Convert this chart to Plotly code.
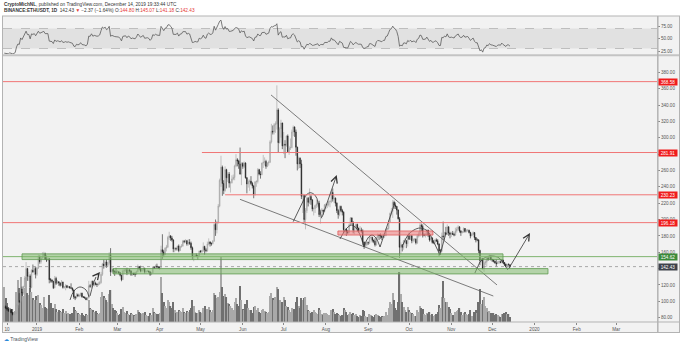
import numpy as np
import pandas as pd
import plotly.graph_objects as go

# ---------------- data ----------------
dates = pd.date_range("2018-12-08", "2019-12-14", freq="D")
first_open = 93.0

close_dec18 = [93.5, 92.0, 90.5, 88.3, 90.0, 86.2, 84.0, 84.5, 85.8, 95.3, 101.0, 99.6, 115.0, 110.2, 118.0, 128.5, 140.0, 130.5, 131.0, 117.0, 138.0, 136.0, 140.0, 133.0]
high_dec18 = [95.5, 95.0, 94.0, 91.5, 92.0, 90.5, 87.0, 86.0, 87.5, 97.0, 102.0, 110.0, 117.0, 118.0, 119.0, 131.0, 148.0, 141.0, 136.0, 133.0, 139.0, 145.0, 143.0, 142.0]
low_dec18 = [91.0, 90.5, 88.5, 87.0, 87.5, 85.5, 82.8, 83.0, 83.5, 85.0, 92.0, 98.0, 98.0, 107.0, 108.0, 117.0, 127.0, 125.0, 125.0, 116.0, 116.0, 135.0, 132.0, 128.0]

close_jan = [140.8, 155.0, 148.5, 153.0, 155.5, 158.0, 151.5, 150.5, 152.0, 126.5, 126.0, 124.5, 116.5, 128.0, 122.0, 124.0, 122.5, 119.5, 123.5, 117.0, 117.5, 119.0, 117.0, 118.0, 116.5, 116.0, 114.0, 105.5, 104.0, 108.0, 106.5]
high_jan = [142, 157, 156, 154, 160, 160.5, 159.5, 156, 154, 153, 128.5, 127, 125, 131, 130, 126, 124.5, 123, 126, 124, 118.5, 121, 120, 119, 118.5, 122, 117, 114, 106.5, 110, 109.5]
low_jan = [131, 139.5, 146, 146, 152, 152.5, 150.5, 148, 149.5, 122, 123, 122.5, 115, 116, 120, 121.5, 119, 118, 119, 115.5, 115.5, 113.5, 116, 116, 115.5, 115.5, 112, 103, 101.5, 103.5, 105.5]

close_feb = [107.0, 110.0, 105.5, 105.0, 104.0, 102.0, 104.5, 119.0, 118.5, 124.5, 120.0, 122.0, 121.0, 120.5, 121.0, 123.0, 133.0, 145.5, 143.5, 148.0, 144.0, 147.5, 157.0, 136.0, 139.0, 136.5, 136.0, 135.5]
high_feb = [109, 110.5, 110.5, 106, 106, 105, 105, 125, 121, 125, 125.5, 123.5, 124, 122, 124, 125, 136, 147, 151, 150, 151, 148.5, 160, 165, 142, 140, 138, 141]
low_feb = [105, 106, 104.5, 104, 103.5, 101.5, 101, 103.5, 116.5, 116.5, 119, 118, 119.5, 117.5, 119, 120.5, 121.5, 131, 140, 141.5, 141, 142, 145, 131, 135, 134, 131, 134]

close_mar = [136.0, 135.0, 132.0, 126.5, 137.0, 138.0, 138.5, 134.5, 138.5, 137.0, 133.0, 134.5, 133.0, 133.0, 136.5, 142.5, 140.0, 137.0, 139.0, 140.5, 136.0, 137.0, 137.0, 136.0, 133.0, 135.0, 142.0, 141.0, 143.0, 142.0, 141.5]
high_mar = [138, 137, 135.5, 132.5, 139, 140, 140, 141, 139, 139, 138, 135, 135, 135.5, 137.5, 145, 143, 143.5, 140, 142, 141, 137.5, 138.5, 137.5, 136.5, 135.5, 142.5, 143, 145, 146, 143]
low_mar = [135, 133, 130.5, 124.5, 126, 134, 136, 132, 134, 135, 131, 131, 132, 130, 132.5, 135.5, 138.5, 135.5, 136, 137.5, 134, 134.5, 136, 135, 131, 132, 134.5, 139.5, 140, 140.5, 139.5]

close_apr = [141.5, 163.0, 160.5, 157.0, 165.0, 166.5, 178.0, 180.0, 177.5, 175.0, 164.0, 164.5, 164.0, 167.5, 162.0, 167.0, 167.5, 173.5, 173.0, 174.0, 170.0, 172.0, 171.0, 165.5, 154.5, 155.0, 156.5, 155.5, 155.5, 161.5]
high_apr = [143, 168, 182, 163, 166, 169, 180, 185, 181, 180, 176, 166, 166, 168, 169.5, 168, 170, 175, 175, 176, 175, 176, 176, 173, 167, 158, 159, 158.5, 156.5, 162]
low_apr = [139, 141, 152, 154, 156.5, 161, 165, 175, 174, 173, 160, 160, 162, 162, 160, 161.5, 165.5, 167, 171, 171.5, 168, 168, 169, 163, 151, 149, 154, 154, 151, 154.5]

close_may = [160.5, 162.0, 167.0, 163.0, 162.0, 170.0, 172.5, 170.5, 170.5, 173.5, 194.0, 187.5, 197.0, 216.5, 248.0, 264.0, 244.0, 235.5, 261.0, 251.0, 255.5, 244.5, 245.0, 249.5, 251.5, 265.5, 273.0, 271.5, 268.0, 255.5, 268.5]
high_may = [162.5, 163, 172, 168, 165, 173, 177, 173.5, 172, 175, 196, 200, 198, 219, 250, 278, 266, 248, 265, 262, 258, 258, 247, 254, 255, 267, 280, 275, 273, 288, 270]
low_may = [159.5, 158.5, 160.5, 157, 160, 160.5, 168.5, 167, 168, 169.5, 173, 180, 183, 195, 215, 240, 229, 231, 234, 238, 246, 239, 233, 244, 248, 248, 264, 265, 262, 255, 242]

close_jun = [265.0, 269.0, 251.0, 243.5, 246.5, 247.0, 244.0, 241.0, 231.0, 246.0, 246.5, 261.0, 255.5, 255.0, 269.0, 270.0, 271.0, 265.0, 269.0, 270.0, 295.0, 308.0, 307.0, 316.0, 317.0, 334.0, 294.0, 311.0, 318.0, 290.0]
high_jun = [270, 271, 270, 252, 249, 249, 253, 246, 242, 247, 248, 263, 262, 259, 269.5, 279, 276, 273, 270, 272, 297, 317, 315, 318, 320, 364, 336, 313, 322, 318.5]
low_jun = [262, 263, 250, 232, 239, 235, 242, 238, 226, 229, 240, 244, 254, 250, 254, 263, 266, 262, 264, 266, 269, 293, 304, 304, 306, 310, 282, 293, 300, 286]

close_jul = [292.0, 291.0, 302.0, 283.0, 287.5, 288.0, 307.0, 313.0, 307.0, 288.5, 268.0, 275.0, 268.0, 228.5, 229.5, 200.0, 211.0, 226.0, 221.0, 228.0, 224.0, 213.0, 213.5, 217.0, 219.0, 220.0, 206.0, 211.0, 211.5, 210.0, 218.0]
high_jul = [307, 297, 303, 304, 290, 299, 310, 315, 314, 310, 289, 277, 276, 273, 232, 230, 214, 228, 227.5, 238, 230, 225, 215, 218, 224, 223, 223, 212, 214, 212, 219]
low_jul = [280, 275, 289, 282, 279, 285, 287, 302, 301, 278, 260, 262, 263, 225, 208, 196, 188, 208, 216, 219, 218, 210, 205, 208, 214, 215, 203, 195, 208, 206, 209]

close_aug = [218.0, 218.0, 222.0, 222.0, 233.0, 225.0, 226.0, 220.0, 211.0, 206.0, 216.0, 211.0, 209.0, 187.5, 188.0, 185.0, 184.0, 193.5, 202.0, 197.0, 187.0, 191.5, 194.0, 189.5, 186.5, 187.0, 186.0, 172.5, 168.5, 169.0, 172.0]
high_aug = [220, 221, 223, 224, 235, 238, 229, 227, 221, 213, 217, 217, 213, 210, 190, 189, 187, 195, 203, 202.5, 197.5, 192, 195, 195, 190, 192, 190, 188, 173, 171, 173.5]
low_aug = [213, 214, 216, 215, 220, 222, 220, 216, 208, 201, 204, 209, 205, 183, 181, 180, 182, 183, 192, 195, 183, 182, 188, 185, 184, 185.5, 184, 169, 164, 166, 167]

close_sep = [171.5, 178.0, 178.0, 174.5, 173.5, 169.0, 178.0, 181.0, 180.5, 180.0, 178.0, 180.5, 180.5, 188.0, 189.0, 197.0, 207.5, 210.0, 221.0, 217.5, 216.0, 211.5, 201.0, 166.0, 169.0, 166.0, 174.0, 174.0, 170.5, 180.0]
high_sep = [173, 180, 181, 179, 175.5, 177, 179, 183, 182, 183, 181, 183, 181.5, 189, 190, 199.5, 208.5, 214, 224, 223, 220, 216.5, 212.5, 203, 172, 170, 175, 177, 175, 181]
low_sep = [169, 170, 176, 172, 171, 167, 168, 175, 175, 176.5, 175, 177, 177.5, 179.5, 187, 187.5, 196, 205, 202, 213, 213, 206, 200, 153, 158, 161, 163, 171, 165, 167]

close_oct = [176.0, 180.0, 174.0, 176.0, 176.0, 171.5, 180.0, 182.5, 193.0, 191.5, 181.0, 181.0, 181.5, 187.0, 181.0, 175.0, 177.5, 172.0, 172.0, 175.0, 174.0, 170.0, 161.5, 161.5, 180.0, 179.0, 184.0, 182.0, 191.0, 183.5, 182.0]
high_oct = [184, 181, 181, 177, 177, 177, 182, 185, 196, 195, 194, 183, 184, 188, 187.5, 182, 178.5, 178, 174.5, 176, 177, 176, 171, 164, 184, 197.5, 185, 191, 194, 192, 185]
low_oct = [175, 175, 171, 172, 173, 169.5, 170, 178, 179, 186, 178, 179.5, 178, 180, 178.5, 173, 173.5, 170.5, 170, 169, 172.5, 168.5, 155.5, 159.5, 160, 175, 175, 181, 181, 180, 177]

close_nov = [183.0, 182.0, 181.0, 186.0, 188.5, 191.0, 186.0, 184.0, 185.0, 189.0, 185.5, 187.0, 187.0, 184.0, 180.0, 182.0, 184.0, 178.0, 175.0, 175.0, 162.0, 150.0, 152.0, 140.0, 147.0, 148.0, 153.0, 151.0, 155.0, 151.0]
high_nov = [185, 186, 184, 190, 191, 193, 192, 187, 186, 190.5, 189.5, 188, 188, 187.5, 185, 183, 185.5, 184.5, 178.5, 177, 176, 163, 153, 153, 150, 150, 155, 155, 157, 156]
low_nov = [178.5, 181, 179.5, 180, 184, 187, 184, 180, 183, 183.5, 184, 184, 185, 183, 177, 179.5, 181, 175, 172, 173.5, 159, 144, 147.5, 139, 136, 144, 142, 149.5, 150.5, 150]

close_dec19 = [150.5, 149.0, 147.0, 146.0, 148.0, 148.5, 147.5, 150.5, 147.5, 145.5, 143.0, 145.0, 144.8, 142.43]
high_dec19 = [152, 151, 149.5, 151, 149, 149.5, 150, 151.5, 151, 148, 146, 146, 146.5, 145.07]
low_dec19 = [148, 147.5, 146, 142.5, 145.5, 145.5, 146.5, 146.5, 146, 143.5, 142, 140.5, 143.5, 141.18]

# daily volume, thousand ETH
vol_dec18 = [1050, 720, 570, 450, 420, 360, 390, 300, 330, 900, 1260, 1020, 1350, 900, 780, 1020, 1350, 870, 810, 1020, 900, 720, 660, 780]
vol_jan = [660, 810, 570, 510, 420, 750, 450, 420, 390, 810, 570, 360, 420, 540, 390, 300, 360, 330, 300, 390, 270, 330, 240, 270, 240, 210, 270, 450, 360, 330, 270]
vol_feb = [240, 210, 270, 210, 180, 240, 210, 660, 420, 390, 360, 300, 330, 270, 240, 270, 750, 900, 780, 720, 660, 600, 840, 960, 540, 420, 360, 330]
vol_mar = [270, 210, 240, 390, 450, 300, 270, 330, 240, 210, 270, 240, 210, 180, 240, 360, 300, 270, 240, 270, 300, 210, 180, 180, 270, 210, 420, 300, 270, 240, 240]
vol_apr = [270, 1350, 870, 600, 480, 420, 660, 600, 480, 420, 600, 360, 270, 300, 360, 330, 300, 420, 300, 270, 330, 300, 360, 420, 660, 480, 300, 270, 270, 360]
vol_may = [300, 270, 420, 480, 300, 390, 450, 360, 300, 360, 870, 810, 720, 750, 900, 1950, 1050, 780, 840, 750, 570, 540, 480, 420, 360, 600, 720, 540, 480, 1080, 660]
vol_jun = [390, 360, 540, 660, 420, 360, 360, 270, 450, 480, 360, 420, 300, 270, 360, 390, 330, 300, 270, 300, 780, 870, 720, 660, 750, 1050, 990, 660, 540, 600]
vol_jul = [750, 660, 480, 450, 360, 300, 420, 360, 390, 600, 750, 480, 420, 720, 660, 720, 750, 510, 360, 330, 270, 300, 360, 300, 270, 240, 420, 360, 240, 210, 270]
vol_aug = [270, 240, 210, 210, 360, 390, 300, 240, 270, 240, 210, 180, 210, 420, 360, 300, 210, 240, 300, 240, 270, 210, 240, 180, 150, 210, 180, 360, 330, 180, 150]
vol_sep = [150, 240, 210, 180, 150, 210, 240, 210, 180, 150, 180, 150, 180, 300, 210, 420, 600, 540, 870, 660, 420, 360, 600, 1500, 840, 600, 450, 360, 300, 450]
vol_oct = [360, 300, 270, 240, 180, 180, 360, 300, 480, 420, 390, 240, 210, 270, 240, 300, 210, 240, 180, 210, 240, 300, 510, 420, 750, 1230, 720, 600, 600, 450, 390]
vol_nov = [270, 210, 210, 300, 330, 360, 420, 300, 210, 270, 300, 240, 210, 240, 360, 180, 180, 300, 360, 270, 600, 990, 540, 660, 750, 480, 420, 300, 330, 270]
vol_dec19 = [240, 270, 210, 240, 210, 180, 150, 240, 240, 270, 300, 240, 240, 150]

# closes before the visible range (RSI warm-up, 2018-11-10 .. 2018-12-07)
warmup_close = [212, 211, 210, 206, 181, 180, 174, 173, 176, 149, 130, 137, 126, 123, 113, 116, 108, 111, 122, 118, 113, 118, 116, 107, 109, 102, 91, 93]

close = close_dec18 + close_jan + close_feb + close_mar + close_apr + close_may + close_jun + close_jul + close_aug + close_sep + close_oct + close_nov + close_dec19
high = high_dec18 + high_jan + high_feb + high_mar + high_apr + high_may + high_jun + high_jul + high_aug + high_sep + high_oct + high_nov + high_dec19
low = low_dec18 + low_jan + low_feb + low_mar + low_apr + low_may + low_jun + low_jul + low_aug + low_sep + low_oct + low_nov + low_dec19
volume_k = vol_dec18 + vol_jan + vol_feb + vol_mar + vol_apr + vol_may + vol_jun + vol_jul + vol_aug + vol_sep + vol_oct + vol_nov + vol_dec19
opens = [first_open] + close[:-1]

# axis ticks (140 and 280 sit under the price-label boxes in the reference)
price_ticks = [80, 100, 120, 140, 160, 180, 200, 220, 240, 260, 280, 300, 320, 340, 360, 380]
price_tick_labels = ["80.00", "100.00", "120.00", "", "160.00", "180.00", "200.00", "220.00", "240.00", "260.00", "", "300.00", "320.00", "340.00", "360.00", "380.00"]
rsi_ticks = [25, 50, 75]
rsi_tick_labels = ["25.00", "50.00", "75.00"]
date_ticks = ["2018-12-10", "2019-01-01", "2019-02-01", "2019-03-01", "2019-04-01", "2019-05-01", "2019-06-01", "2019-07-01", "2019-08-01", "2019-09-01", "2019-10-01", "2019-11-01", "2019-12-01", "2020-01-01", "2020-02-01", "2020-03-01"]
date_tick_labels = ["10", "2019", "Feb", "Mar", "Apr", "May", "Jun", "Jul", "Aug", "Sep", "Oct", "Nov", "Dec", "2020", "Feb", "Mar"]

# horizontal levels
red_levels = [368.58, 281.91, 230.23, 196.18]
red_level_starts = [None, "2019-05-02", "2019-05-19", None]
green_level = 154.62
last_price = 142.43

# zones (start, end, low, high)
green_zone_upper = ("2018-12-21", "2019-12-08 22:00", 151.0, 158.0)
green_zone_lower = ("2019-02-25 19:00", "2020-01-10 22:00", 133.5, 140.0)
red_zone = ("2019-08-09 19:00", "2019-10-18 12:00", 181.0, 186.0)

# trend lines
trend_upper_dates = ["2019-06-21 17:00", "2019-12-04 12:00"]
trend_upper_prices = [352.3, 120.0]
trend_lower_dates = ["2019-05-29 22:00", "2019-12-01 19:00"]
trend_lower_prices = [224.7, 106.5]

# hand-drawn paths (date, price)
feb_arc_dates = ["2019-01-25 05:00", "2019-01-28 02:00", "2019-02-01 12:00", "2019-02-06", "2019-02-08 05:00"]
feb_arc_prices = [101.6, 112.6, 117.5, 113.8, 105.2]
feb_arrow_dates = ["2019-02-08 22:00", "2019-02-11 02:00", "2019-02-13 07:00"]
feb_arrow_prices = [106.5, 120.0, 129.8]
feb_arrow_tip = ("2019-02-16 05:00", 135.9)

jul_line_dates = ["2019-07-08", "2019-07-17 10:00"]
jul_line_prices = [197.4, 230.0]
jul_arc_dates = ["2019-07-17 10:00", "2019-07-20 10:00", "2019-07-23 10:00", "2019-07-25 10:00"]
jul_arc_prices = [230.0, 232.8, 230.6, 225.7]
jul_down_dates = ["2019-07-25 10:00", "2019-07-28 22:00"]
jul_down_prices = [225.7, 201.5]
jul_arrow_tip = ("2019-08-08 22:00", 254.4)

aug_arc1_dates = ["2019-08-11 07:00", "2019-08-16 10:00", "2019-08-20 02:00", "2019-08-23 17:00", "2019-08-27 10:00", "2019-08-28 22:00"]
aug_arc1_prices = [176.2, 189.6, 193.3, 188.4, 175.0, 166.4]
aug_arc2_dates = ["2019-08-28 22:00", "2019-08-31 19:00", "2019-09-03 19:00", "2019-09-06 17:00", "2019-09-09 17:00"]
aug_arc2_prices = [166.4, 177.4, 181.1, 177.4, 166.4]
sep_line_dates = ["2019-09-09 17:00", "2019-09-20 17:00"]
sep_line_prices = [166.4, 221.4]

oct_arc_dates = ["2019-09-26 12:00", "2019-09-30 05:00", "2019-10-04 14:00", "2019-10-09", "2019-10-13 10:00", "2019-10-16 07:00"]
oct_arc_prices = [168.9, 181.1, 187.2, 189.6, 187.2, 182.3]
oct_v_dates = ["2019-10-16 07:00", "2019-10-23 17:00", "2019-10-28 02:00"]
oct_v_prices = [182.3, 156.6, 183.5]

nov_line_dates = ["2019-11-18 07:00", "2019-11-22"]
nov_line_prices = [134.6, 148.1]
nov_arc_dates = ["2019-11-22", "2019-11-26 10:00", "2019-12-01 14:00", "2019-12-06", "2019-12-09 14:00"]
nov_arc_prices = [148.1, 154.2, 155.4, 153.0, 145.6]
dec_down_dates = ["2019-12-09 14:00", "2019-12-12 12:00"]
dec_down_prices = [145.6, 138.3]
dec_arrow_tip = ("2019-12-28 17:00", 183.5)

# ---------------- derived: RSI(14), Wilder smoothing ----------------
all_close = np.array(warmup_close + close, dtype=float)
diff = np.diff(all_close)
gain = np.where(diff > 0, diff, 0.0)
loss = np.where(diff < 0, -diff, 0.0)
n = 14
rsi_all = np.full(len(all_close), np.nan)
ag, al = gain[:n].mean(), loss[:n].mean()
rsi_all[n] = 100 - 100 / (1 + ag / al) if al > 0 else 100
for i in range(n + 1, len(all_close)):
    ag = (ag * (n - 1) + gain[i - 1]) / n
    al = (al * (n - 1) + loss[i - 1]) / n
    rsi_all[i] = 100 - 100 / (1 + ag / al) if al > 0 else 100
rsi = rsi_all[len(warmup_close):]

# ---------------- figure ----------------
W, H = 680, 346
ML, MR, MT, MB = 3, 23, 16, 24
PW, PH = W - ML - MR, H - MT - MB


def PX(x):
    return (x - ML) / PW


def PY(y):
    return (H - MB - y) / PH


main_dom = [0, PY(57)]
rsi_dom = [PY(54), 1]
x_range = ["2018-12-07 01:30", "2020-03-30 21:30"]

UP_C, DN_C = "#c2c2c2", "#1c1c1c"
vol_colors = ["#a9a9a9" if c >= o else "#707070" for o, c in zip(opens, close)]

fig = go.Figure()
fig.add_trace(go.Bar(x=dates, y=volume_k, marker=dict(color=vol_colors, line=dict(width=0)),
                     xaxis="x", yaxis="y", hoverinfo="skip"))
fig.add_trace(go.Candlestick(x=dates, open=opens, high=high, low=low, close=close,
                             xaxis="x", yaxis="y3",
                             increasing=dict(fillcolor=UP_C, line=dict(color="#9f9f9f", width=0.6)),
                             decreasing=dict(fillcolor=DN_C, line=dict(color=DN_C, width=0.6)),
                             whiskerwidth=0, hoverinfo="skip"))
fig.add_trace(go.Scatter(x=dates, y=rsi, mode="lines", line=dict(color="#5a5a5a", width=0.8),
                         xaxis="x", yaxis="y2", hoverinfo="skip"))

TL = dict(color="#5c5c5c", width=0.8)
for dx, dy in [(trend_upper_dates, trend_upper_prices), (trend_lower_dates, trend_lower_prices)]:
    fig.add_trace(go.Scatter(x=dx, y=dy, mode="lines", line=TL, xaxis="x", yaxis="y3", hoverinfo="skip"))

DL = dict(color="#333333", width=0.8)
spline_paths = [(feb_arc_dates, feb_arc_prices), (jul_arc_dates, jul_arc_prices),
                (aug_arc1_dates, aug_arc1_prices), (aug_arc2_dates, aug_arc2_prices),
                (oct_arc_dates, oct_arc_prices), (nov_arc_dates, nov_arc_prices),
                (feb_arrow_dates, feb_arrow_prices)]
straight_paths = [(jul_line_dates, jul_line_prices), (jul_down_dates, jul_down_prices),
                  (sep_line_dates, sep_line_prices), (oct_v_dates, oct_v_prices),
                  (nov_line_dates, nov_line_prices), (dec_down_dates, dec_down_prices)]
for dx, dy in spline_paths:
    fig.add_trace(go.Scatter(x=dx, y=dy, mode="lines", line=dict(DL, shape="spline", smoothing=1.0),
                             xaxis="x", yaxis="y3", hoverinfo="skip"))
for dx, dy in straight_paths:
    fig.add_trace(go.Scatter(x=dx, y=dy, mode="lines", line=DL, xaxis="x", yaxis="y3", hoverinfo="skip"))

shapes = []
# background of the chart frame
shapes.append(dict(type="rect", xref="paper", yref="paper", x0=PX(2), x1=PX(680), y0=PY(332.5), y1=PY(16),
                   fillcolor="#f2f2f2", line=dict(width=0), layer="below"))
# RSI band + dashed bounds
shapes.append(dict(type="rect", xref="paper", yref="y2", x0=0, x1=1, y0=30, y1=70,
                   fillcolor="#e1e1e1", line=dict(width=0), layer="below"))
for lv in (30, 70):
    shapes.append(dict(type="line", xref="paper", yref="y2", x0=0, x1=1, y0=lv, y1=lv,
                       line=dict(color="#a0a0a0", width=0.6, dash="dash"), layer="below"))
# level lines
for lv, st in zip(red_levels, red_level_starts):
    if st is None:
        shapes.append(dict(type="line", xref="paper", yref="y3", x0=0, x1=1, y0=lv, y1=lv,
                           line=dict(color="#f07575", width=1)))
    else:
        shapes.append(dict(type="line", xref="x", yref="y3", x0=st, x1=x_range[1], y0=lv, y1=lv,
                           line=dict(color="#f07575", width=1)))
shapes.append(dict(type="line", xref="paper", yref="y3", x0=0, x1=1, y0=green_level, y1=green_level,
                   line=dict(color="#7fb46f", width=1)))
shapes.append(dict(type="line", xref="paper", yref="y3", x0=0, x1=1, y0=last_price, y1=last_price,
                   line=dict(color="#8a8a8a", width=0.7, dash="dot")))
# zones
for z in (green_zone_upper, green_zone_lower):
    shapes.append(dict(type="rect", xref="x", yref="y3", x0=z[0], x1=z[1], y0=z[2], y1=z[3],
                       fillcolor="rgba(130,185,110,0.55)", line=dict(color="#5f9a52", width=0.8)))
shapes.append(dict(type="rect", xref="x", yref="y3", x0=red_zone[0], x1=red_zone[1], y0=red_zone[2], y1=red_zone[3],
                   fillcolor="rgba(238,120,120,0.55)", line=dict(color="#e05a5a", width=0.8)))
# frame borders
BC = "#b3b3b3"
for y in (16, 322, 332.5):
    shapes.append(dict(type="line", xref="paper", yref="paper", x0=PX(2), x1=PX(680), y0=PY(y), y1=PY(y),
                       line=dict(color=BC, width=1)))
shapes.append(dict(type="line", xref="paper", yref="paper", x0=PX(2), x1=PX(680), y0=PY(55.3), y1=PY(55.3),
                   line=dict(color="#c4c4c4", width=2)))
for x in (2.5, 657.8, 679.5):
    shapes.append(dict(type="line", xref="paper", yref="paper", x0=PX(x), x1=PX(x), y0=PY(332.5), y1=PY(16),
                       line=dict(color=BC, width=1.5 if x == 657.8 else 1)))

annotations = []
# arrow heads
for start, tip in [((feb_arrow_dates[-1], feb_arrow_prices[-1]), feb_arrow_tip),
                   ((jul_down_dates[-1], jul_down_prices[-1]), jul_arrow_tip),
                   ((dec_down_dates[-1], dec_down_prices[-1]), dec_arrow_tip)]:
    annotations.append(dict(x=tip[0], y=tip[1], ax=start[0], ay=start[1], xref="x", yref="y3",
                            axref="x", ayref="y3", text="", showarrow=True, arrowhead=5,
                            arrowsize=1.6, arrowwidth=0.8, arrowcolor="#333333", standoff=0))
# price labels on the scale
label_specs = [(v, "#f01c1c") for v in red_levels] + [(green_level, "#3c8a3a"), (last_price, "#3e424b")]
for v, col in label_specs:
    annotations.append(dict(x=1, xref="paper", y=v, yref="y3", xanchor="left", yanchor="middle", xshift=1,
                            text=f"{v:.2f}", showarrow=False, bgcolor=col, width=17, height=5, borderpad=0.5,
                            font=dict(family="Liberation Sans", size=4.6, color="white")))
# header
FONT = "Liberation Sans"
red = "#e53935"
annotations.append(dict(xref="paper", yref="paper", x=PX(1.5), y=PY(4.8), xanchor="left", yanchor="middle",
                        showarrow=False, text="<b>CryptoMichNL</b>, published on TradingView.com, December 14, 2019 19:33:44 UTC",
                        font=dict(family=FONT, size=4.7, color="#333")))
annotations.append(dict(xref="paper", yref="paper", x=PX(1.5), y=PY(10.8), xanchor="left", yanchor="middle",
                        showarrow=False,
                        text=(f"<b>BINANCE:ETHUSDT, 1D</b>  142.43 <span style='color:{red}'>▼</span> −2.37 (−1.64%) "
                              f"O:<span style='color:{red}'>144.80</span> H:<span style='color:{red}'>145.07</span> "
                              f"L:<span style='color:{red}'>141.18</span> C:<span style='color:{red}'>142.43</span>"),
                        font=dict(family=FONT, size=4.7, color="#333")))
# footer logo
annotations.append(dict(xref="paper", yref="paper", x=PX(2), y=PY(338.5), xanchor="left", yanchor="middle",
                        showarrow=False,
                        text="<span style='color:#2a8ad8'>☁</span> <span style='color:#4a5560'>TradingView</span>",
                        font=dict(family=FONT, size=5)))

AX_FONT = dict(family=FONT, size=4.6, color="#555")
fig.update_layout(
    width=W, height=H, margin=dict(l=ML, r=MR, t=MT, b=MB),
    paper_bgcolor="white", plot_bgcolor="rgba(0,0,0,0)",
    showlegend=False, hovermode=False, bargap=0.12,
    shapes=shapes, annotations=annotations,
    xaxis=dict(type="date", range=x_range, domain=[0, 1], anchor="y", tickvals=date_ticks, ticktext=date_tick_labels,
               ticks="outside", ticklen=2, tickwidth=0.5, tickcolor="#888", tickfont=AX_FONT,
               showgrid=False, zeroline=False, showline=False, rangeslider=dict(visible=False)),
    yaxis=dict(domain=main_dom, range=[0, 265 * 30], visible=False, fixedrange=True),
    yaxis2=dict(domain=rsi_dom, range=[19, 95], anchor="x", side="right", tickvals=rsi_ticks, ticktext=rsi_tick_labels,
                ticks="outside", ticklen=2, tickwidth=0.5, tickcolor="#888", tickfont=AX_FONT,
                showgrid=False, zeroline=False, showline=False),
    yaxis3=dict(overlaying="y", anchor="x", side="right", range=[74.7, 398.7], tickvals=price_ticks,
                ticktext=price_tick_labels, ticks="outside", ticklen=2, tickwidth=0.5, tickcolor="#888",
                tickfont=AX_FONT, showgrid=False, zeroline=False, showline=False),
)

fig.write_html("out.html")
